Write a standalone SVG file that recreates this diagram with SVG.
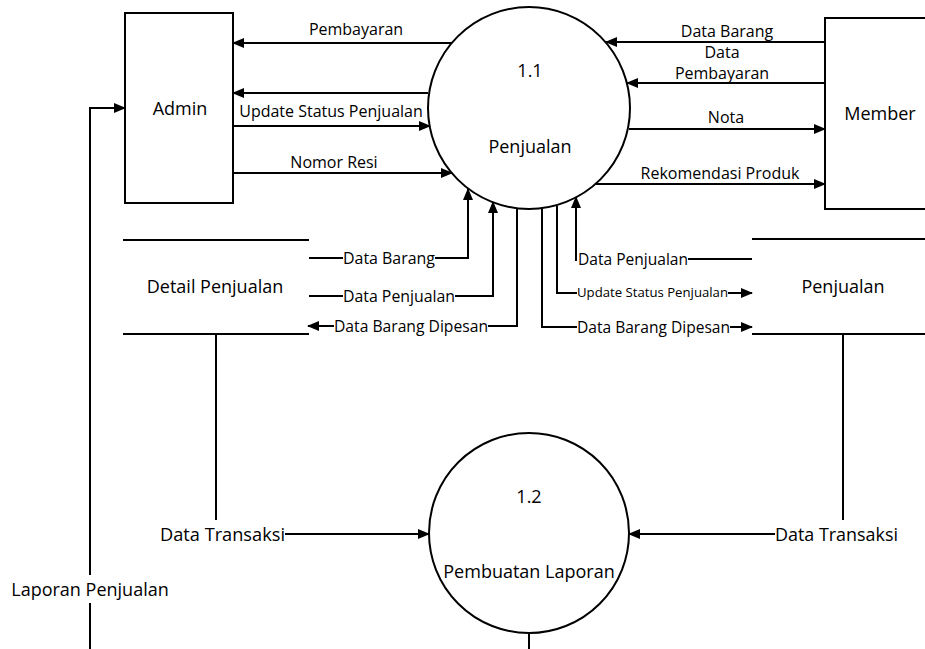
<svg xmlns="http://www.w3.org/2000/svg" width="925" height="649" viewBox="0 0 925 649">
<style>
text{font-family:"Open Sans","Noto Sans","Liberation Sans",sans-serif;fill:#000}
.m{font-size:18px}
.f{font-size:16px}
.s{font-size:13px}
.c{text-anchor:middle}
.shape{fill:#fff;stroke:#000;stroke-width:2}
.ln{fill:none;stroke:#000;stroke-width:2}
.ar{fill:none;stroke:#000;stroke-width:2;marker-end:url(#ah)}
</style>
<defs>
<marker id="ah" markerUnits="userSpaceOnUse" markerWidth="12" markerHeight="10" refX="11" refY="5" orient="auto">
<path d="M0,0 L12,5 L0,10 z" fill="#000"/>
</marker>
</defs>
<rect width="925" height="649" fill="#fff"/>

<g id="admin">
<rect class="shape" x="125" y="13" width="108" height="190"/>
<text class="m c" x="180" y="115">Admin</text>
</g>

<g id="member">
<rect class="shape" x="825" y="18" width="110" height="191"/>
<text class="m c" x="880" y="120">Member</text>
</g>

<g id="p11">
<circle class="shape" cx="529" cy="108" r="101"/>
<text class="m c" x="530" y="77">1.1</text>
<text class="m c" x="530" y="153">Penjualan</text>
</g>

<g id="p12">
<circle class="shape" cx="529" cy="533" r="100"/>
<text class="m c" x="529" y="503">1.2</text>
<text class="m c" x="529" y="578">Pembuatan Laporan</text>
</g>

<g id="ds_detail">
<line class="ln" x1="123" y1="240" x2="309" y2="240"/>
<line class="ln" x1="123" y1="334" x2="309" y2="334"/>
<text class="m c" x="215" y="293">Detail Penjualan</text>
</g>

<g id="ds_penjualan">
<line class="ln" x1="752" y1="239" x2="925" y2="239"/>
<line class="ln" x1="752" y1="334" x2="925" y2="334"/>
<text class="m c" x="843" y="293">Penjualan</text>
</g>

<g id="connectors">
<path class="ar" d="M452,43 L233,43"/>
<path class="ar" d="M428,93 L233,93"/>
<path class="ar" d="M233,126 L430,126"/>
<path class="ar" d="M233,173 L452,173"/>
<path class="ar" d="M825,42 L606,42"/>
<path class="ar" d="M825,83 L627,83"/>
<path class="ar" d="M629,129 L825,129"/>
<path class="ar" d="M596,184 L825,184"/>

<path class="ln" d="M309,258 L343,258"/>
<path class="ar" d="M435,258 L468,258 L468,189"/>
<path class="ln" d="M309,296 L343,296"/>
<path class="ar" d="M455,296 L493,296 L493,202"/>
<path class="ln" d="M517,208 L517,326 L488,326"/>
<path class="ar" d="M334,326 L308,326"/>

<path class="ln" d="M752,259 L688,259"/>
<path class="ar" d="M576,261 L576,197"/>
<path class="ln" d="M557,206 L557,293 L577,293"/>
<path class="ar" d="M728,293 L752,293"/>
<path class="ln" d="M542,208 L542,327 L577,327"/>
<path class="ar" d="M730,327 L752,327"/>

<path class="ln" d="M216,334 L216,520"/>
<path class="ar" d="M285,534 L429,534"/>
<path class="ln" d="M843,334 L843,520"/>
<path class="ar" d="M775,534 L629,534"/>

<path class="ln" d="M90,649 L90,603"/>
<path class="ar" d="M90,575 L90,108 L125,108"/>
<path class="ln" d="M529,633 L529,649"/>

<text class="f c" x="356" y="35">Pembayaran</text>
<text class="f c" x="331" y="117">Update Status Penjualan</text>
<text class="f c" x="334" y="168">Nomor Resi</text>
<text class="f c" x="727" y="37">Data Barang</text>
<text class="f c" x="722" y="58">Data</text>
<text class="f c" x="722" y="79">Pembayaran</text>
<text class="f c" x="726" y="123">Nota</text>
<text class="f c" x="720" y="179">Rekomendasi Produk</text>

<text class="f" x="343" y="264" textLength="92" lengthAdjust="spacingAndGlyphs">Data Barang</text>
<text class="f" x="343" y="302" textLength="112" lengthAdjust="spacingAndGlyphs">Data Penjualan</text>
<text class="f" x="334" y="332" textLength="154" lengthAdjust="spacingAndGlyphs">Data Barang Dipesan</text>
<text class="f" x="578" y="265" textLength="110" lengthAdjust="spacingAndGlyphs">Data Penjualan</text>
<text class="s" x="577" y="297" textLength="151" lengthAdjust="spacingAndGlyphs">Update Status Penjualan</text>
<text class="f" x="577" y="333" textLength="153" lengthAdjust="spacingAndGlyphs">Data Barang Dipesan</text>

<text class="m" x="160" y="541" textLength="125" lengthAdjust="spacingAndGlyphs">Data Transaksi</text>
<text class="m" x="775" y="541" textLength="123" lengthAdjust="spacingAndGlyphs">Data Transaksi</text>
<text class="m c" x="90" y="596">Laporan Penjualan</text>
</g>
</svg>
